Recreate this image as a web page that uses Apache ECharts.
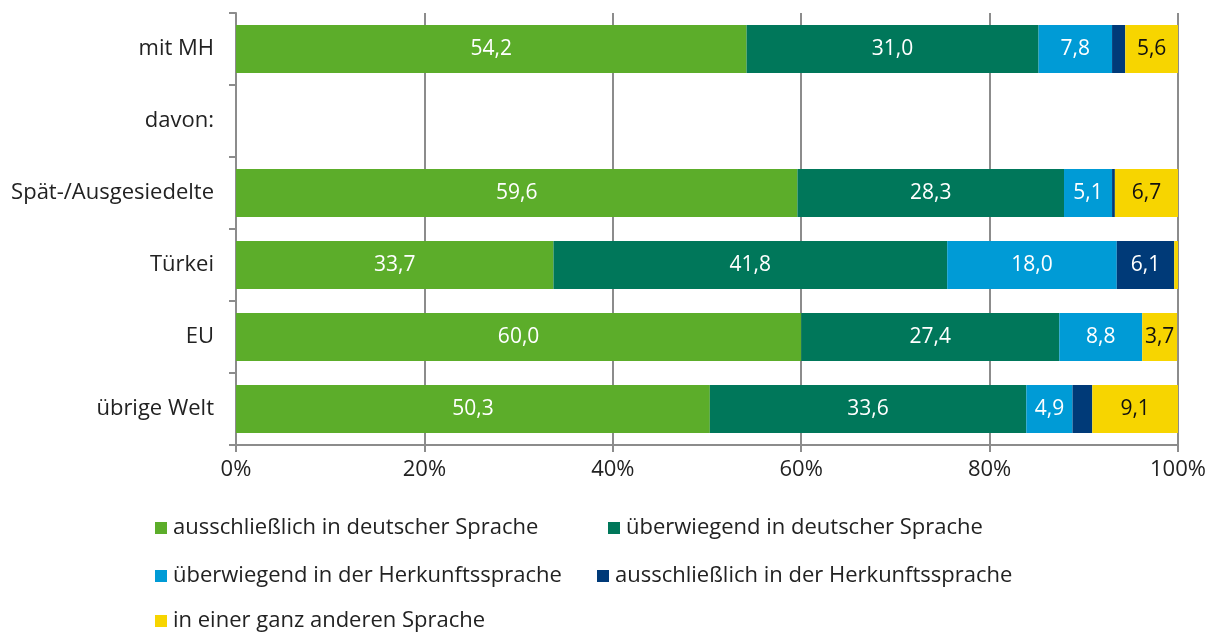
<!DOCTYPE html>
<html>
<head>
<meta charset="utf-8">
<script src="https://cdn.jsdelivr.net/npm/echarts@6/dist/echarts.min.js"></script>
<style>
  html, body { margin: 0; padding: 0; background: #fff; }
  #chart { width: 1218px; height: 636px; }
</style>
</head>
<body>
<div id="chart"></div>
<script>
const categories = ['mit MH', 'davon:', 'Spät-/Ausgesiedelte', 'Türkei', 'EU', 'übrige Welt'];
const seriesNames = [
  'ausschließlich in deutscher Sprache',
  'überwiegend in deutscher Sprache',
  'überwiegend in der Herkunftssprache',
  'ausschließlich in der Herkunftssprache',
  'in einer ganz anderen Sprache'
];
const ausschlDeutsch = [54.2, null, 59.6, 33.7, 60.0, 50.3];
const ueberwDeutsch = [31.0, null, 28.3, 41.8, 27.4, 33.6];
const ueberwHerkunft = [7.8, null, 5.1, 18.0, 8.8, 4.9];
const ausschlHerkunft = [1.4, null, 0.3, 6.1, 0, 2.1];
const andereSprache = [5.6, null, 6.7, 0.4, 3.7, 9.1];
const xTicks = [0, 20, 40, 60, 80, 100];

const colors = ['#5cad2a', '#00775a', '#009bd6', '#003a78', '#f7d500'];
const labelColors = ['#fff', '#fff', '#fff', '#fff', '#111'];
const values = [ausschlDeutsch, ueberwDeutsch, ueberwHerkunft, ausschlHerkunft, andereSprache];
const font = "'Open Sans', 'Liberation Sans', sans-serif";

const chart = echarts.init(document.getElementById('chart'));

// one legend per entry so the rows sit like in the original
const legendPos = [[155, 517], [608, 517], [155, 565], [597, 565], [155, 610]];
const legends = seriesNames.map((n, i) => ({
  data: [n],
  left: legendPos[i][0],
  top: legendPos[i][1],
  padding: 0,
  icon: 'rect',
  itemWidth: 12,
  itemHeight: 12,
  itemGap: 0,
  selectedMode: false,
  textStyle: { fontFamily: font, fontSize: 22, color: '#222', padding: [0, 0, 0, 1] }
}));

const option = {
  animation: false,
  color: colors,
  textStyle: { fontFamily: font },
  legend: legends,
  grid: { left: 236, right: 40, top: 13, bottom: 191 },
  xAxis: {
    type: 'value',
    min: 0,
    max: 100,
    interval: 20,
    axisLine: { show: true, lineStyle: { color: '#8c8c8c', width: 2 } },
    axisTick: { show: true, length: 7, lineStyle: { color: '#8c8c8c', width: 2 } },
    splitLine: { show: true, lineStyle: { color: '#8c8c8c', width: 2 } },
    axisLabel: {
      margin: 14,
      fontFamily: font,
      fontSize: 22,
      color: '#222',
      formatter: v => xTicks.includes(v) ? v + '%' : ''
    }
  },
  yAxis: {
    type: 'category',
    data: categories,
    inverse: true,
    axisLine: { show: true, lineStyle: { color: '#8c8c8c', width: 2 } },
    axisTick: { show: true, length: 7, lineStyle: { color: '#8c8c8c', width: 2 } },
    axisLabel: { margin: 22, fontFamily: font, fontSize: 22, color: '#222' }
  },
  series: values.map((arr, i) => ({
    name: seriesNames[i],
    type: 'bar',
    stack: 'total',
    barWidth: 48,
    data: arr,
    itemStyle: { color: colors[i] },
    label: {
      show: true,
      position: 'inside',
      fontFamily: font,
      fontSize: 21,
      color: labelColors[i],
      formatter: p => (p.value == null || p.value < 3) ? '' : p.value.toFixed(1).replace('.', ',')
    }
  }))
};

chart.setOption(option);
window.addEventListener('resize', () => chart.resize());
</script>
</body>
</html>
